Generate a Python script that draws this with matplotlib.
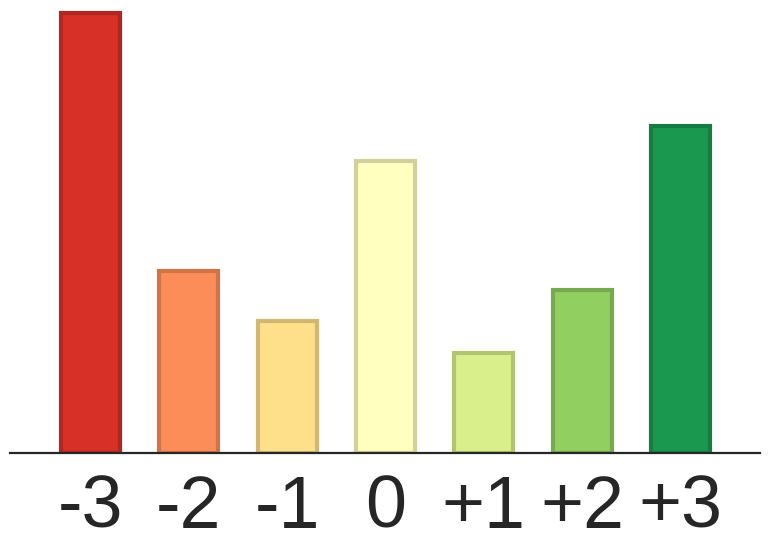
import matplotlib.pyplot as plt
from matplotlib.colors import to_rgb

# ── 数据 ──────────────────────────────────────────
labels = ["-3", "-2", "-1", "0", "+1", "+2", "+3"]
values = [440, 182, 132, 292, 100, 163, 327]
colors = ["#d73027", "#fc8d59", "#fee08b", "#ffffbf", "#d9ef8b", "#91cf60", "#1a9850"]

# 边框颜色：填充色加深
edges = [tuple(c * 0.82 for c in to_rgb(col)) for col in colors]

fig = plt.figure(figsize=(7.72, 5.43), dpi=100)
ax = fig.add_axes([10 / 772, 1 - 453 / 543, 750 / 772, 453 / 543])

x = list(range(len(labels)))
ax.bar(x, values, width=0.6, color=colors, edgecolor=edges, linewidth=3)

ax.set_xlim(-0.82, 6.81)
ax.set_ylim(0, 453)
ax.set_xticks(x)
ax.set_xticklabels(labels, fontsize=53, color="#262626", family="Liberation Sans")
ax.tick_params(axis="x", length=0, pad=15)
ax.set_yticks([])

for s in ["top", "right", "left"]:
    ax.spines[s].set_visible(False)
ax.spines["bottom"].set_color("#262626")
ax.spines["bottom"].set_linewidth(1.6)
ax.spines["bottom"].set_zorder(3)

fig.savefig("out.png", dpi=100)
